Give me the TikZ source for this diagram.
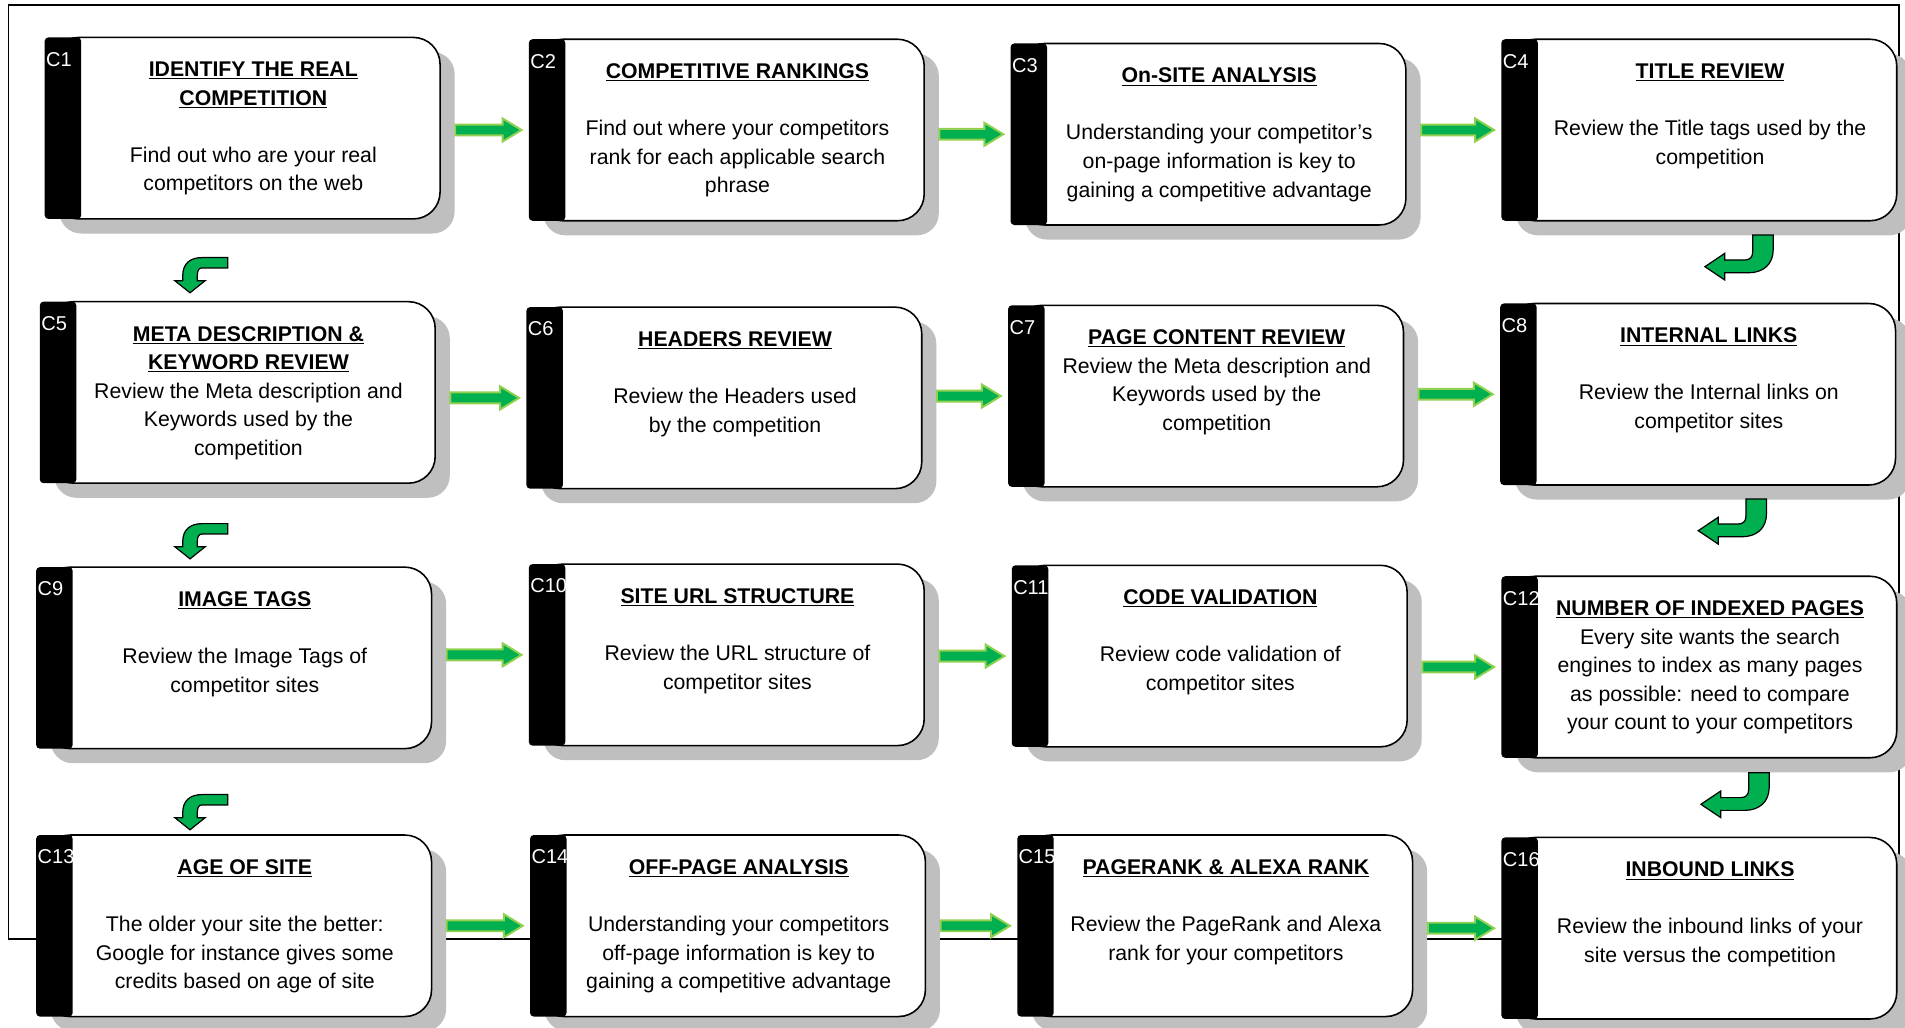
\documentclass[tikz,border=0pt]{standalone}
\usepackage{fontspec}
\setmainfont{Liberation Sans}
\usetikzlibrary{calc,positioning,backgrounds}
\definecolor{flowgreen}{HTML}{00B050}
\definecolor{flowrim}{HTML}{92D050}
\definecolor{shadowgray}{HTML}{BFBFBF}

\tikzset{
  card/.style={minimum width=325pt, minimum height=149pt, inner sep=0pt},
  cardtext/.style={align=center, inner sep=0pt, font=\fontsize{17.5}{23.5}\selectfont},
  cardlabel/.style={text=white, inner sep=0pt, anchor=north west, font=\fontsize{16.5}{18}\selectfont},
  flowarrow/.style={fill=flowgreen, draw=flowrim, line width=1.6pt, line join=miter},
  turnarrow/.style={fill=flowgreen, draw=black, line width=1pt, line join=miter},
  turndown/.pic={
    \path[turnarrow] (0,0) -- (-12.5,-10) -- (-6,-10) -- (-6,-14)
      .. controls (-6,-24) and (0,-29) .. (10,-29) -- (31,-29) -- (31,-20.5) -- (10,-20.5)
      .. controls (7,-20.5) and (6,-18) .. (6,-14) -- (6,-10) -- (12.5,-10) -- cycle;
  },
  turnleft/.pic={
    \path[turnarrow] (0,0) -- (16.4,-11) -- (16.4,-5.5) -- (33,-5.5)
      .. controls (37,-5.5) and (39.3,-8) .. (39.3,-12) -- (39.3,-26) -- (56.2,-26) -- (56.2,-14)
      .. controls (56.2,-2) and (48,5) .. (36,5) -- (16.4,5) -- (16.4,11) -- cycle;
  }
}
\newcommand{\ttl}[1]{\underline{\textbf{#1}}}
\newcommand{\flowto}[2]{%
  \draw[flowarrow] let \p1=($(#1.east)+(12.5,0)$), \p2=($(#2.west)+(-6,0)$) in
    (\x1,\y2+4.5pt) -- (\x2-15.6pt,\y2+4.5pt) -- (\x2-15.6pt,\y2+9.5pt) -- (\x2,\y2)
    -- (\x2-15.6pt,\y2-9.5pt) -- (\x2-15.6pt,\y2-4.5pt) -- (\x1,\y2-4.5pt) -- cycle;}

\begin{document}
\begin{tikzpicture}[x=1pt,y=-1pt]
\useasboundingbox (0,0) rectangle (1568,846);
% les cartes
\node[card] (c1) at (199.5,105.5) {};
\node[cardtext, below=20pt of c1.north, xshift=9pt] (t1) {\ttl{IDENTIFY THE REAL}\\\ttl{COMPETITION}\\[23.5pt]Find out who are your real\\competitors on the web};
\node[card] (c2) at (598,107) {};
\node[cardtext, below=20pt of c2.north, xshift=9pt] (t2) {\ttl{COMPETITIVE RANKINGS}\\[23.5pt]Find out where your competitors\\rank for each applicable search\\phrase};
\node[card] (c3) at (994.5,110.5) {};
\node[cardtext, below=20pt of c3.north, xshift=9pt] (t3) {\ttl{On-SITE ANALYSIS}\\[23.5pt]Understanding your competitor’s\\on-page information is key to\\gaining a competitive advantage};
\node[card] (c4) at (1398.5,107) {};
\node[cardtext, below=20pt of c4.north, xshift=9pt] (t4) {\ttl{TITLE REVIEW}\\[23.5pt]Review the Title tags used by the\\competition};

\node[card] (c5) at (195.5,323) {};
\node[cardtext, below=20pt of c5.north, xshift=9pt] (t5) {\ttl{META DESCRIPTION \&}\\\ttl{KEYWORD REVIEW}\\Review the Meta description and\\Keywords used by the\\competition};
\node[card] (c6) at (596,327.5) {};
\node[cardtext, below=20pt of c6.north, xshift=9pt] (t6) {\ttl{HEADERS REVIEW}\\[23.5pt]Review the Headers used\\by the competition};
\node[card] (c7) at (992.5,326) {};
\node[cardtext, below=20pt of c7.north, xshift=9pt] (t7) {\ttl{PAGE CONTENT REVIEW}\\Review the Meta description and\\Keywords used by the\\competition};
\node[card] (c8) at (1397.5,324.5) {};
\node[cardtext, below=20pt of c8.north, xshift=9pt] (t8) {\ttl{INTERNAL LINKS}\\[23.5pt]Review the Internal links on\\competitor sites};

\node[card] (c9) at (192.5,541.5) {};
\node[cardtext, below=20pt of c9.north, xshift=9pt] (t9) {\ttl{IMAGE TAGS}\\[23.5pt]Review the Image Tags of\\competitor sites};
\node[card] (c10) at (598,539) {};
\node[cardtext, below=20pt of c10.north, xshift=9pt] (t10) {\ttl{SITE URL STRUCTURE}\\[23.5pt]Review the URL structure of\\competitor sites};
\node[card] (c11) at (995.5,540) {};
\node[cardtext, below=20pt of c11.north, xshift=9pt] (t11) {\ttl{CODE VALIDATION}\\[23.5pt]Review code validation of\\competitor sites};
\node[card] (c12) at (1398.5,549) {};
\node[cardtext, below=20pt of c12.north, xshift=9pt] (t12) {\ttl{NUMBER OF INDEXED PAGES}\\Every site wants the search\\engines to index as many pages\\as possible: need to compare\\your count to your competitors};

\node[card] (c13) at (192.5,762) {};
\node[cardtext, below=20pt of c13.north, xshift=9pt] (t13) {\ttl{AGE OF SITE}\\[23.5pt]The older your site the better:\\Google for instance gives some\\credits based on age of site};
\node[card] (c14) at (599,762) {};
\node[cardtext, below=20pt of c14.north, xshift=9pt] (t14) {\ttl{OFF-PAGE ANALYSIS}\\[23.5pt]Understanding your competitors\\off-page information is key to\\gaining a competitive advantage};
\node[card] (c15) at (1000,762) {};
\node[cardtext, below=20pt of c15.north, xshift=9pt] (t15) {\ttl{PAGERANK \& ALEXA RANK}\\[23.5pt]Review the PageRank and Alexa\\rank for your competitors};
\node[card] (c16) at (1398.5,764) {};
\node[cardtext, below=20pt of c16.north, xshift=9pt] (t16) {\ttl{INBOUND LINKS}\\[23.5pt]Review the inbound links of your\\site versus the competition};

% cadre, ombres, bandes noires
\begin{scope}[on background layer]
\draw[line width=1.2pt] (7,4) rectangle (1563,773);
\foreach \n in {1,...,16}{
  \fill[shadowgray, rounded corners=18pt] ($(c\n.north west)+(12,12)$) rectangle ($(c\n.south east)+(12,12)$);
  \draw[fill=white, line width=1.3pt, rounded corners=22pt] ($(c\n.north west)+(6,0)$) rectangle (c\n.south east);
  \fill[rounded corners=3pt] (c\n.north west) rectangle ($(c\n.south west)+(30,0)$);
  \node[cardlabel] (l\n) at ($(c\n.north west)+(1,12)$) {C\n};
}
\end{scope}

% fleches
\flowto{c1}{c2} \flowto{c2}{c3} \flowto{c3}{c4}
\flowto{c5}{c6} \flowto{c6}{c7} \flowto{c7}{c8}
\flowto{c9}{c10} \flowto{c10}{c11} \flowto{c11}{c12}
\flowto{c13}{c14} \flowto{c14}{c15} \flowto{c15}{c16}

\pic at (156.4,241) {turndown};
\pic at (156.4,460) {turndown};
\pic at (156.4,683) {turndown};
\pic at (1403.3,219.5) {turnleft};
\pic at (1397.8,436.8) {turnleft};
\pic at (1400,662) {turnleft};
\end{tikzpicture}
\end{document}
